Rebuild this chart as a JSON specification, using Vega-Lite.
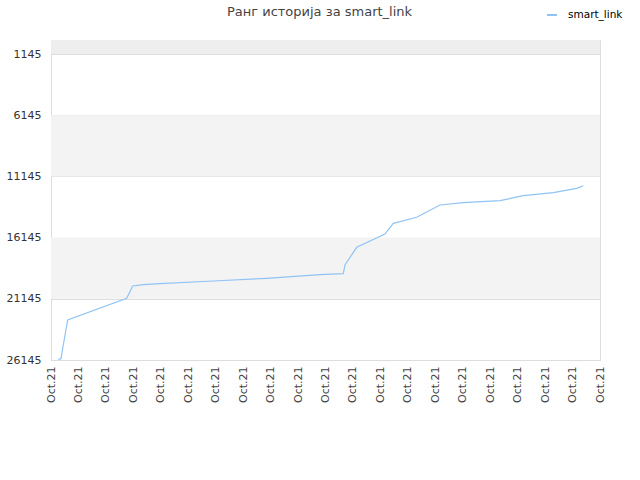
{
  "$schema": "https://vega.github.io/schema/vega-lite/v6.json",
  "autosize": "none",
  "padding": {"left": 51, "top": 40, "right": 40, "bottom": 120},
  "width": 549,
  "height": 320,
  "config": {
    "font": "DejaVu Sans",
    "view": {"stroke": "#dddddd", "strokeWidth": 1}
  },
  "title": {
    "text": "Ранг историја за smart_link",
    "fontSize": 13,
    "fontWeight": "normal",
    "color": "#444444",
    "anchor": "middle",
    "dx": -6,
    "offset": -10
  },
  "datasets": {
    "bands": [
      {"y0": 1, "y1": 1145, "shade": "top"},
      {"y0": 6145, "y1": 11145, "shade": "alt"},
      {"y0": 16145, "y1": 21145, "shade": "alt"}
    ],
    "rank": [
      {"t": 0.266, "rank": 26088, "series": "smart_link"},
      {"t": 0.364, "rank": 26039, "series": "smart_link"},
      {"t": 0.448, "rank": 24920, "series": "smart_link"},
      {"t": 0.608, "rank": 22877, "series": "smart_link"},
      {"t": 2.758, "rank": 21104, "series": "smart_link"},
      {"t": 2.976, "rank": 20099, "series": "smart_link"},
      {"t": 3.362, "rank": 19993, "series": "smart_link"},
      {"t": 3.971, "rank": 19911, "series": "smart_link"},
      {"t": 5.913, "rank": 19691, "series": "smart_link"},
      {"t": 7.858, "rank": 19470, "series": "smart_link"},
      {"t": 9.8, "rank": 19176, "series": "smart_link"},
      {"t": 10.648, "rank": 19094, "series": "smart_link"},
      {"t": 10.71, "rank": 18384, "series": "smart_link"},
      {"t": 11.137, "rank": 16938, "series": "smart_link"},
      {"t": 12.168, "rank": 15851, "series": "smart_link"},
      {"t": 12.47, "rank": 14977, "series": "smart_link"},
      {"t": 13.322, "rank": 14487, "series": "smart_link"},
      {"t": 14.171, "rank": 13482, "series": "smart_link"},
      {"t": 15.02, "rank": 13294, "series": "smart_link"},
      {"t": 16.357, "rank": 13130, "series": "smart_link"},
      {"t": 17.206, "rank": 12722, "series": "smart_link"},
      {"t": 18.299, "rank": 12477, "series": "smart_link"},
      {"t": 19.151, "rank": 12117, "series": "smart_link"},
      {"t": 19.392, "rank": 11905, "series": "smart_link"}
    ]
  },
  "encoding": {
    "y": {
      "type": "quantitative",
      "scale": {"domain": [1, 26145], "reverse": true, "nice": false, "zero": false},
      "axis": {
        "title": null, "values": [1145, 6145, 11145, 16145, 21145, 26145],
        "labelFontSize": 11, "labelColor": "#333333", "grid": true, "gridColor": "#dddddd",
        "ticks": false, "domain": false, "labelPadding": 10, "format": "d"
      }
    }
  },
  "layer": [
    {
      "data": {"name": "bands"},
      "mark": {"type": "rect"},
      "encoding": {
        "x": {"value": 0},
        "x2": {"value": "width"},
        "y": {"field": "y0", "type": "quantitative"},
        "y2": {"field": "y1"},
        "fill": {"field": "shade", "type": "nominal", "scale": {"domain": ["top", "alt"], "range": ["#eeeeee", "#f3f3f3"]}, "legend": null}
      }
    },
    {
      "data": {"name": "rank"},
      "mark": {"type": "line", "strokeWidth": 1.2, "interpolate": "linear"},
      "encoding": {
        "x": {
          "field": "t", "type": "quantitative",
          "scale": {"domain": [0, 20], "nice": false, "zero": false},
          "axis": {
            "title": null, "values": [0,1,2,3,4,5,6,7,8,9,10,11,12,13,14,15,16,17,18,19,20],
            "labelExpr": "'Oct.21'", "labelAngle": 270, "labelFontSize": 11, "labelColor": "#444444",
            "grid": false, "ticks": false, "domain": false, "labelPadding": 6, "labelFlush": false, "labelOverlap": false
          }
        },
        "y": {"field": "rank", "type": "quantitative"},
        "color": {
          "field": "series", "type": "nominal",
          "scale": {"range": ["#90c3f5"]},
          "legend": {
            "title": null, "orient": "none", "legendX": 495, "legendY": -31,
            "symbolType": "stroke", "symbolStrokeWidth": 2, "symbolSize": 100,
            "labelOffset": 10, "labelFontSize": 10.5, "labelColor": "#000000"
          }
        }
      }
    }
  ],
  "resolve": {"scale": {"color": "independent"}}
}
